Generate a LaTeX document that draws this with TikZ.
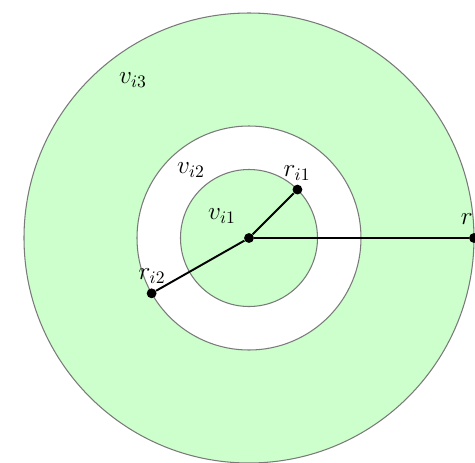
\documentclass[tikz,border=0pt]{standalone}
\usepackage{tikz}
\definecolor{mint}{HTML}{CCFFCC}
\definecolor{rim}{HTML}{7A7A7A}
\begin{document}
\begin{tikzpicture}[scale=.02,font=\Large,every node/.style={text=black},
  dot/.style={circle,fill=black,inner sep=0pt,minimum size=5.6pt},
  spoke/.style={draw=black,line width=1.1pt}]
\useasboundingbox (-249,-224) rectangle (226,238);
% three nested discs, the middle one left white
\foreach \rad/\tone in {225/mint,112/white,68.5/mint}{
  \draw[draw=rim,fill=\tone,line width=.6pt] (0,0) circle (\rad);
}
\node[dot] (c) at (0,0) {};
\node[dot] (p1) at (45:68.5) {};
\node[dot] (p2) at (209.6:112) {};
\node[dot] (p3) at (0:225) {};
\draw[spoke] (c) -- (p1);
\draw[spoke] (c) -- (p2);
\draw[spoke] (c) -- (p3);
% labels
\node (v3) at (-116,158) {$v_{i3}$};
\node (v2) at (-58,68) {$v_{i2}$};
\node (v1) at (-27,22) {$v_{i1}$};
\node (r1) at (48,65) {$r_{i1}$};
\node (r2) at (-97,-38) {$r_{i2}$};
\node[anchor=east,inner sep=0pt] (r3) at (224,19) {$r$};
\end{tikzpicture}
\end{document}
